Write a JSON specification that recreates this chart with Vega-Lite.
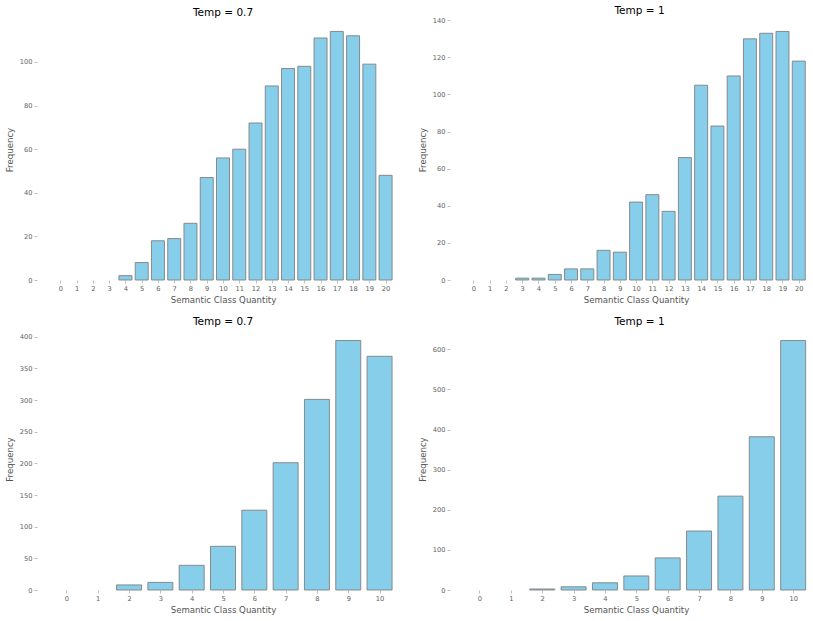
{
  "$schema": "https://vega.github.io/schema/vega-lite/v6.json",
  "background": "white",
  "padding": {"left": 5, "top": 5, "right": 0, "bottom": 0},
  "config": {
    "font": "DejaVu Sans",
    "view": {"stroke": null},
    "title": {"fontSize": 10.5, "fontWeight": "normal", "color": "#000000", "font": "DejaVu Sans", "offset": 1},
    "axis": {
      "domain": false,
      "grid": false,
      "tickColor": "#b0b0b0",
      "tickSize": 3,
      "tickWidth": 0.8,
      "labelColor": "#606060",
      "labelFontSize": 6.7,
      "labelFont": "DejaVu Sans",
      "titleColor": "#555555",
      "titleFontSize": 8.6,
      "titleFont": "DejaVu Sans",
      "titleFontWeight": "normal",
      "labelPadding": 2
    },
    "axisY": {"titlePadding": 5},
    "axisX": {"titlePadding": 4, "labelAngle": 0},
    "bar": {"fill": "#87CEEB", "stroke": "#808080", "strokeWidth": 0.9}
  },
  "datasets": {
    "t07_20": [
      {"quantity": 4, "frequency": 2}, {"quantity": 5, "frequency": 8}, {"quantity": 6, "frequency": 18},
      {"quantity": 7, "frequency": 19}, {"quantity": 8, "frequency": 26}, {"quantity": 9, "frequency": 47},
      {"quantity": 10, "frequency": 56}, {"quantity": 11, "frequency": 60}, {"quantity": 12, "frequency": 72},
      {"quantity": 13, "frequency": 89}, {"quantity": 14, "frequency": 97}, {"quantity": 15, "frequency": 98},
      {"quantity": 16, "frequency": 111}, {"quantity": 17, "frequency": 114}, {"quantity": 18, "frequency": 112},
      {"quantity": 19, "frequency": 99}, {"quantity": 20, "frequency": 48}
    ],
    "t1_20": [
      {"quantity": 3, "frequency": 1}, {"quantity": 4, "frequency": 1}, {"quantity": 5, "frequency": 3},
      {"quantity": 6, "frequency": 6}, {"quantity": 7, "frequency": 6}, {"quantity": 8, "frequency": 16},
      {"quantity": 9, "frequency": 15}, {"quantity": 10, "frequency": 42}, {"quantity": 11, "frequency": 46},
      {"quantity": 12, "frequency": 37}, {"quantity": 13, "frequency": 66}, {"quantity": 14, "frequency": 105},
      {"quantity": 15, "frequency": 83}, {"quantity": 16, "frequency": 110}, {"quantity": 17, "frequency": 130},
      {"quantity": 18, "frequency": 133}, {"quantity": 19, "frequency": 134}, {"quantity": 20, "frequency": 118}
    ],
    "t07_10": [
      {"quantity": 2, "frequency": 8}, {"quantity": 3, "frequency": 12}, {"quantity": 4, "frequency": 39},
      {"quantity": 5, "frequency": 69}, {"quantity": 6, "frequency": 126}, {"quantity": 7, "frequency": 201},
      {"quantity": 8, "frequency": 301}, {"quantity": 9, "frequency": 394}, {"quantity": 10, "frequency": 369}
    ],
    "t1_10": [
      {"quantity": 2, "frequency": 2.5}, {"quantity": 3, "frequency": 8}, {"quantity": 4, "frequency": 18},
      {"quantity": 5, "frequency": 35}, {"quantity": 6, "frequency": 80}, {"quantity": 7, "frequency": 147},
      {"quantity": 8, "frequency": 234}, {"quantity": 9, "frequency": 382}, {"quantity": 10, "frequency": 622}
    ]
  },
  "vconcat": [
    {
      "hconcat": [
        {
          "title": "Temp = 0.7",
          "data": {"name": "t07_20"},
          "width": 372,
          "height": 261,
          "mark": {"type": "bar", "width": 13},
          "encoding": {
            "x": {"field": "quantity", "type": "quantitative", "title": "Semantic Class Quantity",
                  "scale": {"domain": [-1.44, 21.44], "nice": false, "zero": false, "padding": 0},
                  "axis": {"values": [0,1,2,3,4,5,6,7,8,9,10,11,12,13,14,15,16,17,18,19,20]}},
            "y": {"field": "frequency", "type": "quantitative", "title": "Frequency",
                  "scale": {"domain": [0, 119.7], "nice": false},
                  "axis": {"values": [0, 20, 40, 60, 80, 100]}}
          }
        },
        {
          "title": {"text": "Temp = 1", "dx": 10},
          "data": {"name": "t1_20"},
          "width": 359,
          "height": 261,
          "mark": {"type": "bar", "width": 13},
          "encoding": {
            "x": {"field": "quantity", "type": "quantitative", "title": "Semantic Class Quantity",
                  "scale": {"domain": [-1.44, 20.63], "nice": false, "zero": false, "padding": 0},
                  "axis": {"values": [0,1,2,3,4,5,6,7,8,9,10,11,12,13,14,15,16,17,18,19,20], "titleX": 186}},
            "y": {"field": "frequency", "type": "quantitative", "title": "Frequency",
                  "scale": {"domain": [0, 140.7], "nice": false},
                  "axis": {"values": [0, 20, 40, 60, 80, 100, 120, 140]}}
          }
        }
      ],
      "spacing": 9
    },
    {
      "hconcat": [
        {
          "title": "Temp = 0.7",
          "data": {"name": "t07_10"},
          "width": 372,
          "height": 262,
          "mark": {"type": "bar", "width": 25},
          "encoding": {
            "x": {"field": "quantity", "type": "quantitative", "title": "Semantic Class Quantity",
                  "scale": {"domain": [-0.94, 10.94], "nice": false, "zero": false, "padding": 0},
                  "axis": {"values": [0,1,2,3,4,5,6,7,8,9,10]}},
            "y": {"field": "frequency", "type": "quantitative", "title": "Frequency",
                  "scale": {"domain": [0, 413.7], "nice": false},
                  "axis": {"values": [0, 50, 100, 150, 200, 250, 300, 350, 400]}}
          }
        },
        {
          "title": {"text": "Temp = 1", "dx": 10},
          "data": {"name": "t1_10"},
          "width": 359,
          "height": 262,
          "mark": {"type": "bar", "width": 25},
          "encoding": {
            "x": {"field": "quantity", "type": "quantitative", "title": "Semantic Class Quantity",
                  "scale": {"domain": [-0.94, 10.505], "nice": false, "zero": false, "padding": 0},
                  "axis": {"values": [0,1,2,3,4,5,6,7,8,9,10], "titleX": 186}},
            "y": {"field": "frequency", "type": "quantitative", "title": "Frequency",
                  "scale": {"domain": [0, 653.1], "nice": false},
                  "axis": {"values": [0, 100, 200, 300, 400, 500, 600]}}
          }
        }
      ],
      "spacing": 9
    }
  ],
  "spacing": 11,
  "resolve": {"scale": {"x": "independent", "y": "independent"}}
}
